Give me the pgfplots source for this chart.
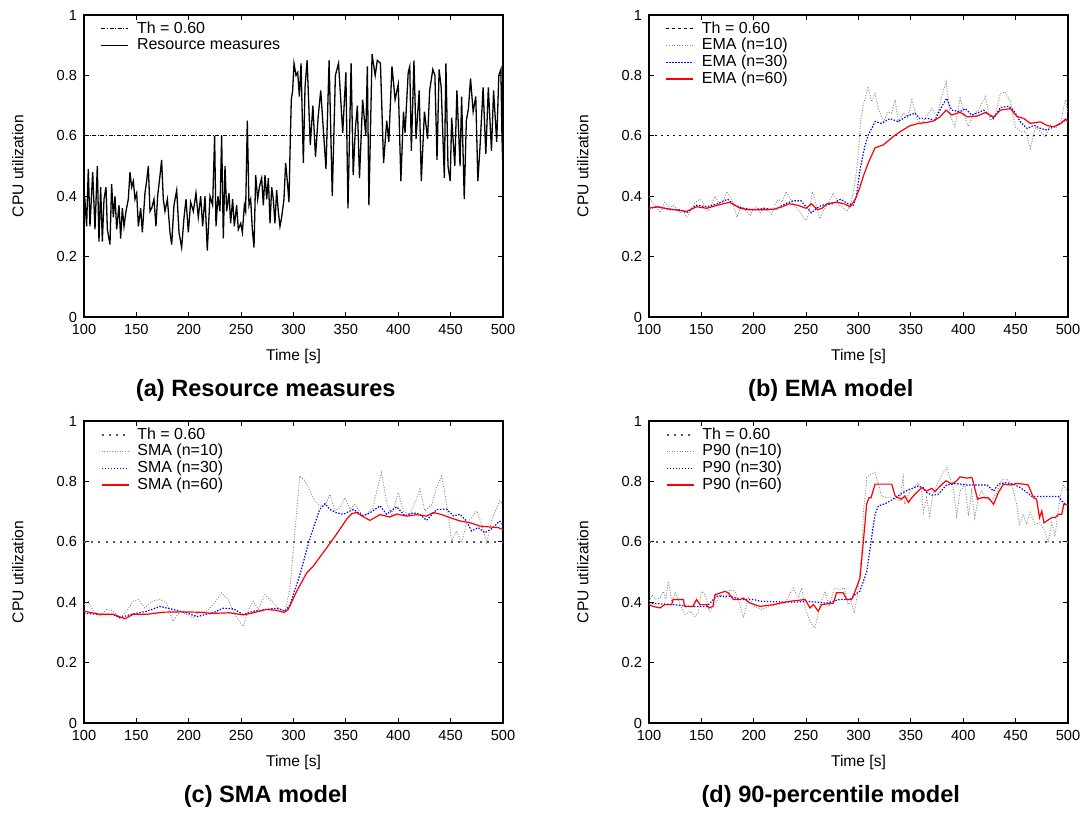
\documentclass[border=0pt]{standalone}
\usepackage{fontspec}
\setmainfont{Liberation Sans}
\usepackage{pgfplots}
\pgfplotsset{compat=1.18}

\pgfplotsset{
  panel/.style={
    scale only axis, width=209.5pt, height=151pt,
    xmin=100, xmax=500, ymin=0, ymax=1,
    xtick={100,150,...,500}, ytick={0,0.2,0.4,0.6,0.8,1},
    yticklabels={0,0.2,0.4,0.6,0.8,1},
    tick align=inside, major tick length=2.5pt,
    axis line style={line width=0.6pt}, tick style={line width=0.5pt,black},
    tick label style={font=\fontsize{7.3}{8}\selectfont},
    /pgf/number format/assume math mode=true,
    xlabel={Time [s]}, ylabel={CPU utilization},
    every axis x label/.style={at={(axis description cs:0.5,-0.132)},anchor=center,
      font=\fontsize{7.8}{8}\selectfont},
    every axis y label/.style={at={(axis description cs:-0.158,0.5)},anchor=center,rotate=90,
      font=\fontsize{7.8}{8}\selectfont},
    legend style={draw=none, fill=none, inner sep=0pt, row sep=-1.9pt,
      at={(axis description cs:0.039,0.99)}, anchor=north west,
      nodes={inner sep=1.5pt},
      font=\fontsize{8}{8.5}\selectfont, cells={anchor=west}},
    legend image code/.code={\draw[##1] (0pt,0pt) -- (13.5pt,0pt); \path (16pt,0pt);},
  },
}
\newcommand{\capt}[2]{\node[font=\fontsize{11.8}{13}\selectfont\bfseries] at ([xshift=90.9pt,yshift=-36.5pt]#1.south west) {#2};}

\begin{document}
\begin{tikzpicture}
\path (0,0) rectangle (543.5pt,-405pt);

% (a) raw measures
\begin{axis}[panel, name=pa, at={(42pt,-158.5pt)}, anchor=south west]
\addplot[draw=black, line width=0.45pt, dash pattern=on 2pt off 0.8pt on 0.5pt off 0.8pt] coordinates {(100,0.6) (500,0.6)};
\addlegendentry{Th = 0.60}
\addplot[draw=black, line width=0.65pt] coordinates {
(100,0.36)(101,0.38)(102.5,0.30)(104.1,0.49)(105.7,0.30)(108.3,0.48)(110.5,0.29)(112.7,0.50)(114.3,0.25)(115.9,0.43)
(117.5,0.25)(119.1,0.39)(121,0.43)(122.3,0.29)(124.8,0.24)(126.4,0.44)(128,0.33)(129.6,0.40)(131.2,0.29)(133.4,0.37)
(135,0.26)(136.6,0.36)(138.2,0.30)(140.1,0.35)(142.3,0.39)(143.9,0.48)(145.5,0.43)(147.1,0.45)(148.7,0.39)(150.3,0.41)
(151.9,0.30)(154.1,0.36)(155.7,0.28)(158.2,0.41)(159.8,0.45)(161.4,0.50)(163,0.35)(164.6,0.36)(166.8,0.39)(168.7,0.30)
(170.3,0.40)(172.6,0.47)(174.1,0.52)(175.7,0.39)(177.3,0.35)(179.6,0.39)(182.1,0.28)(183.7,0.24)(185.9,0.37)(188.5,0.42)
(190.7,0.28)(193.2,0.23)(195.5,0.33)(197.4,0.39)(199.6,0.28)(201.8,0.38)(204.4,0.35)(206.9,0.41)(209.1,0.33)(211.4,0.40)
(213.3,0.30)(215.5,0.40)(217.7,0.22)(220.3,0.40)(222.8,0.37)(224.7,0.60)(226,0.30)(227.9,0.40)(229.8,0.35)(231.4,0.60)
(233,0.26)(234.6,0.50)(236.2,0.35)(238.4,0.41)(240,0.31)(241.9,0.39)(243.5,0.30)(245.7,0.37)(247.3,0.29)(249.6,0.31)
(251.2,0.28)(253.1,0.37)(254.3,0.35)(255.9,0.65)(257.5,0.37)(259.1,0.39)(260.7,0.29)(262.3,0.23)(263.9,0.47)(265.8,0.39)
(267.4,0.43)(269.6,0.46)(271.2,0.37)(272.8,0.47)(274.4,0.39)(276,0.46)(277.6,0.31)(279.2,0.43)(280.7,0.39)(282.3,0.31)
(283.9,0.42)(285.5,0.35)(287.1,0.30)(288.7,0.33)(290.9,0.39)(292.5,0.51)(294.1,0.45)(295.7,0.38)(296.7,0.55)(297.9,0.72)
(299.2,0.75)(300.5,0.84)(302.4,0.80)(304,0.81)(305.6,0.73)(307.2,0.84)(309.4,0.51)(311,0.76)(313,0.85)(316,0.57)
(318.5,0.70)(321,0.53)(323.5,0.66)(326,0.75)(328.5,0.62)(331,0.49)(334,0.85)(337,0.40)(340,0.80)(343,0.84)
(347,0.61)(350,0.81)(352,0.36)(355,0.84)(357,0.47)(359,0.62)(361,0.70)(363,0.46)(366,0.72)(369,0.60)
(370.5,0.83)(372,0.37)(375,0.87)(378,0.80)(380,0.85)(383,0.84)(386,0.51)(389,0.65)(391,0.58)(394,0.83)
(397,0.72)(400,0.77)(402.5,0.45)(405,0.68)(406.5,0.61)(409.5,0.81)(411,0.83)(412.5,0.55)(415,0.85)(417,0.59)
(420,0.75)(422,0.45)(425,0.68)(428,0.59)(430,0.75)(433,0.82)(435,0.80)(437,0.52)(439,0.82)(441,0.76)
(444,0.46)(445.5,0.84)(447.5,0.50)(449.6,0.45)(451,0.66)(454,0.50)(456,0.75)(459,0.50)(460.5,0.73)(463,0.39)
(465,0.65)(467,0.69)(469,0.79)(471.5,0.68)(474,0.73)(476,0.45)(478,0.56)(481,0.76)(483.6,0.54)(486,0.76)
(489,0.55)(491,0.75)(494,0.58)(496,0.80)(498,0.82)(499,0.60)(500,0.48)};
\addlegendentry{Resource measures}
\end{axis}
\capt{pa}{(a) Resource measures}

% (b) EMA
\begin{axis}[panel, name=pb, at={(324.5pt,-158.5pt)}, anchor=south west]
\addplot[draw=black, line width=0.55pt, dash pattern=on 1.2pt off 1.8pt] coordinates {(100,0.6) (500,0.6)};
\addlegendentry{Th = 0.60}
\addplot[draw=black!45, line width=0.45pt, dash pattern=on 0.5pt off 0.8pt] coordinates {
(100,0.40)(103,0.38)(106,0.37)(110.5,0.345)(115,0.38)(120,0.36)(123,0.37)(126,0.36)(129.6,0.345)(133,0.35)
(136,0.33)(140,0.355)(144,0.38)(149,0.39)(153,0.37)(156.6,0.35)(160,0.375)(163,0.40)(168,0.37)(171,0.385)
(174,0.415)(179,0.39)(184,0.33)(187,0.36)(190,0.365)(193,0.35)(196.4,0.335)(200,0.36)(203,0.365)(206,0.345)
(209,0.36)(213,0.355)(217,0.34)(220,0.37)(223.5,0.39)(227,0.38)(231,0.415)(235,0.39)(238,0.37)(244,0.35)
(247,0.33)(250.5,0.32)(253,0.35)(256,0.415)(259,0.38)(263,0.325)(266,0.35)(270,0.37)(273,0.39)(276,0.41)
(279,0.39)(282,0.37)(286,0.36)(289,0.35)(292,0.37)(295,0.41)(298,0.48)(300,0.555)(302,0.65)(304.5,0.70)
(309,0.763)(312.5,0.713)(315.8,0.74)(319,0.69)(323.7,0.647)(328.5,0.68)(331.7,0.675)(335,0.72)(338,0.647)(343,0.675)
(347,0.66)(351,0.719)(355.6,0.657)(360,0.636)(365,0.665)(370,0.69)(374.6,0.665)(379.5,0.73)(383.6,0.779)(387.5,0.665)
(392,0.63)(397,0.724)(402,0.657)(405,0.63)(409.6,0.669)(414.4,0.685)(421,0.73)(425.6,0.65)(430.4,0.669)(435.5,0.74)
(440,0.745)(445,0.713)(449.7,0.63)(454.6,0.614)(459.4,0.614)(464,0.558)(469,0.63)(474,0.614)(478.5,0.597)(483,0.636)
(488,0.625)(493,0.646)(497.6,0.719)(500,0.675)};
\addlegendentry{EMA (n=10)}
\addplot[draw=blue, line width=0.6pt, dash pattern=on 0.7pt off 0.8pt] coordinates {
(100,0.36)(110,0.365)(120,0.355)(130,0.355)(136,0.345)(145,0.37)(155,0.365)(165,0.375)(175,0.39)(182,0.37)
(190,0.36)(200,0.355)(210,0.36)(220,0.355)(230,0.375)(238,0.385)(245,0.385)(250,0.365)(255,0.345)(260,0.36)
(265,0.37)(275,0.375)(283,0.39)(290,0.375)(295,0.37)(298,0.40)(301.4,0.487)(306,0.564)(309,0.60)(315.8,0.647)
(322,0.641)(330,0.657)(338,0.647)(346,0.665)(354,0.675)(358.6,0.657)(366.6,0.657)(373,0.652)(379.5,0.697)(384,0.724)
(389,0.685)(397,0.68)(402,0.69)(408,0.669)(413,0.675)(419.5,0.685)(429,0.657)(435.5,0.694)(443.5,0.698)(448,0.685)
(454.6,0.646)(461,0.624)(467.5,0.635)(474,0.624)(480,0.619)(486.5,0.63)(493,0.641)(497.6,0.652)(500,0.657)};
\addlegendentry{EMA (n=30)}
\addplot[draw=red, line width=0.6pt] coordinates {
(100,0.36)(107,0.365)(115,0.36)(125,0.355)(136,0.35)(145.5,0.365)(155,0.36)(165,0.37)(171,0.375)(177,0.38)
(187,0.36)(195,0.355)(202,0.355)(210,0.355)(219,0.357)(227,0.365)(234,0.375)(242,0.37)(250,0.36)(255,0.375)
(261,0.355)(265,0.36)(270,0.375)(279,0.38)(286,0.375)(292,0.365)(297,0.39)(301.4,0.43)(305,0.47)(309.3,0.51)
(315.8,0.56)(323.7,0.57)(333,0.597)(339.5,0.613)(349,0.633)(357,0.641)(365,0.644)(371.5,0.649)(378,0.663)(383.6,0.685)
(389,0.669)(397,0.678)(403.6,0.663)(413,0.665)(421,0.677)(429,0.662)(435.5,0.685)(445,0.69)(451,0.665)(458,0.657)
(464,0.641)(473.8,0.646)(480,0.634)(486.5,0.63)(493,0.641)(497.6,0.655)(500,0.646)};
\addlegendentry{EMA (n=60)}
\end{axis}
\capt{pb}{(b) EMA model}

% (c) SMA
\begin{axis}[panel, name=pc, at={(42pt,-361.5pt)}, anchor=south west]
\addplot[draw=black!65, line width=0.8pt, dash pattern=on 1pt off 2.6pt] coordinates {(100,0.6) (500,0.6)};
\addlegendentry{Th = 0.60}
\addplot[draw=black!45, line width=0.45pt, dash pattern=on 0.5pt off 0.8pt] coordinates {
(100,0.392)(104,0.403)(109,0.37)(115,0.353)(121.6,0.376)(128,0.37)(134,0.346)(140.7,0.37)(147,0.403)(152,0.409)
(158,0.381)(164.6,0.403)(172.6,0.409)(179,0.397)(185,0.337)(191.6,0.37)(198,0.359)(204,0.348)(210.7,0.37)(217,0.37)
(223.5,0.392)(231.4,0.431)(237.8,0.409)(242.6,0.37)(247,0.342)(252,0.32)(257,0.376)(261.6,0.403)(266.4,0.376)(272.8,0.425)
(279,0.403)(285.5,0.381)(292,0.37)(296.7,0.447)(301.4,0.636)(306,0.818)(311,0.802)(315.8,0.768)(320.5,0.735)(325,0.719)
(330,0.719)(334.8,0.757)(339.6,0.702)(344.4,0.713)(349,0.746)(354,0.708)(358.7,0.724)(365,0.691)(369.8,0.691)(376,0.713)
(381,0.791)(384,0.829)(389,0.73)(393.7,0.686)(400,0.763)(405,0.702)(411,0.691)(417.6,0.746)(420.7,0.774)(425.5,0.702)
(432,0.724)(436.7,0.78)(441.5,0.818)(446,0.73)(451,0.602)(455.7,0.636)(460.5,0.597)(465,0.658)(470,0.68)(474.9,0.702)
(479.6,0.658)(484.4,0.597)(489,0.669)(494,0.713)(497,0.735)(500,0.724)};
\addlegendentry{SMA (n=10)}
\addplot[draw=blue, line width=0.6pt, dash pattern=on 0.7pt off 0.8pt] coordinates {
(100,0.364)(115,0.359)(128,0.359)(134,0.348)(144,0.359)(160,0.37)(172.6,0.386)(185,0.376)(198,0.365)(207.6,0.352)
(223,0.365)(233,0.38)(242.6,0.378)(252,0.359)(261.6,0.37)(274,0.376)(284,0.38)(292,0.37)(296.7,0.392)(306,0.49)
(315.8,0.613)(325,0.707)(330,0.726)(334.8,0.707)(341,0.696)(347.6,0.691)(357,0.707)(366.6,0.686)(373,0.696)(382.6,0.719)
(388.9,0.691)(398.5,0.716)(406.4,0.686)(414.4,0.696)(420.7,0.691)(427,0.671)(436.7,0.707)(446,0.708)(452.6,0.686)(459,0.691)
(465,0.669)(470,0.636)(476.4,0.647)(482.8,0.63)(490.8,0.647)(496.5,0.669)(500,0.658)};
\addlegendentry{SMA (n=30)}
\addplot[draw=red, line width=0.6pt] coordinates {
(100,0.37)(115,0.36)(128,0.36)(139,0.345)(147,0.36)(160,0.36)(176,0.367)(192,0.368)(207.6,0.367)(223,0.363)
(239,0.365)(252,0.358)(261.6,0.365)(274,0.376)(284,0.373)(291,0.366)(295,0.376)(303,0.436)(312.6,0.497)(319,0.52)
(331.7,0.58)(341,0.625)(350.8,0.675)(355.5,0.693)(360.3,0.697)(365,0.686)(373,0.671)(382.6,0.69)(392,0.682)(398.5,0.692)
(408,0.685)(417.6,0.69)(427,0.685)(433.5,0.697)(441.5,0.69)(449.4,0.68)(459,0.669)(468.5,0.663)(478,0.652)(487.6,0.649)
(495.5,0.647)(500,0.64)};
\addlegendentry{SMA (n=60)}
\end{axis}
\capt{pc}{(c) SMA model}

% (d) 90-percentile
\begin{axis}[panel, name=pd, at={(324.5pt,-361.5pt)}, anchor=south west]
\addplot[draw=black!65, line width=0.8pt, dash pattern=on 1pt off 2.6pt] coordinates {(100,0.6) (500,0.6)};
\addlegendentry{Th = 0.60}
\addplot[draw=black!45, line width=0.45pt, dash pattern=on 0.5pt off 0.8pt] coordinates {
(100,0.403)(103,0.425)(106,0.41)(110.5,0.414)(113.7,0.436)(116,0.41)(118.5,0.469)(121.6,0.403)(125,0.431)(129.6,0.392)
(134.4,0.359)(139,0.37)(144,0.353)(147,0.364)(150,0.436)(153.5,0.425)(158,0.37)(163,0.392)(168,0.425)(172.6,0.414)
(177.3,0.442)(182,0.436)(186.8,0.392)(190,0.348)(195,0.414)(201,0.386)(207.6,0.376)(215.5,0.386)(223.5,0.392)(229.5,0.397)
(237.8,0.447)(242.6,0.414)(245.7,0.447)(248.6,0.386)(253.6,0.337)(258.5,0.315)(263,0.386)(268,0.436)(272,0.386)(277,0.447)
(282,0.442)(286.5,0.447)(290,0.392)(292.8,0.403)(296,0.364)(299,0.425)(301.4,0.503)(303.8,0.602)(304.6,0.70)(307,0.77)
(307.8,0.813)(312.5,0.824)(315.8,0.83)(319,0.791)(322,0.752)(326.8,0.746)(333,0.746)(339.5,0.735)(341,0.779)(342.6,0.813)
(344,0.724)(347.6,0.757)(352,0.779)(357,0.796)(360.3,0.768)(361.8,0.697)(365,0.746)(368,0.686)(371,0.757)(376,0.796)
(380,0.824)(384.5,0.846)(387,0.813)(390,0.791)(393.7,0.686)(397,0.768)(401.6,0.791)(405,0.686)(408,0.768)(411,0.68)
(414.4,0.746)(417.6,0.768)(420.7,0.746)(427,0.735)(432,0.763)(436.7,0.807)(441.5,0.807)(446.3,0.791)(451,0.724)(453.5,0.658)
(457.5,0.691)(460.5,0.658)(463.8,0.697)(468.4,0.658)(473,0.663)(478,0.635)(481,0.597)(484.5,0.663)(487.6,0.619)(491,0.713)
(492.4,0.746)(495.6,0.791)(498.7,0.768)(500,0.757)};
\addlegendentry{P90 (n=10)}
\addplot[draw=blue, line width=0.6pt, dash pattern=on 0.7pt off 0.8pt] coordinates {
(100,0.397)(123,0.392)(139,0.386)(155,0.386)(164.6,0.42)(177,0.42)(187,0.409)(200,0.409)(206,0.403)(238,0.40)
(250.5,0.403)(269.6,0.397)(282,0.409)(292,0.409)(296.7,0.425)(301.4,0.437)(307.8,0.50)(312.5,0.614)(315.8,0.691)(319,0.719)
(325.4,0.726)(333,0.741)(342.6,0.763)(349,0.774)(357,0.785)(361.8,0.779)(365,0.763)(370,0.755)(376,0.757)(384,0.788)
(393.7,0.793)(403.5,0.788)(413,0.788)(422.6,0.788)(429,0.768)(433.6,0.791)(440,0.796)(448,0.791)(454.6,0.779)(461,0.763)
(465.6,0.75)(478,0.75)(491,0.75)(494,0.735)(497.6,0.724)(500,0.724)};
\addlegendentry{P90 (n=30)}
\addplot[draw=red, line width=0.6pt] coordinates {
(100,0.392)(104,0.386)(110.5,0.381)(115,0.392)(121.6,0.392)(123,0.409)(132.8,0.409)(134,0.386)(142,0.386)(145.4,0.409)
(148.6,0.392)(155,0.392)(157,0.381)(161,0.386)(163,0.425)(172.5,0.436)(175.7,0.431)(180.5,0.409)(187,0.409)(190,0.414)
(196.4,0.397)(206,0.386)(218.7,0.392)(225,0.397)(234.6,0.403)(249,0.409)(253.7,0.381)(257,0.392)(261.6,0.37)(264.8,0.392)
(276,0.397)(279,0.431)(285.5,0.431)(288.7,0.409)(293.5,0.409)(296.7,0.436)(301.4,0.48)(303,0.54)(304.6,0.60)(307.8,0.725)
(310,0.746)(312,0.746)(315.8,0.791)(331.7,0.791)(335,0.752)(338,0.746)(341,0.741)(344.4,0.752)(347.6,0.73)(350.8,0.746)
(355.5,0.763)(360.3,0.779)(365,0.768)(370,0.777)(373,0.766)(378,0.785)(383.6,0.802)(389,0.791)(393.7,0.802)(397,0.815)
(403.5,0.811)(408.3,0.813)(410,0.791)(413.6,0.741)(417.6,0.746)(424,0.746)(429,0.724)(433.5,0.763)(438.4,0.791)(445,0.788)
(451,0.793)(457.5,0.791)(462,0.788)(467,0.746)(470,0.741)(472.8,0.68)(475,0.702)(477,0.663)(484.5,0.68)(487.6,0.68)
(491,0.691)(494,0.691)(496,0.724)(500,0.724)};
\addlegendentry{P90 (n=60)}
\end{axis}
\capt{pd}{(d) 90-percentile model}
\end{tikzpicture}
\end{document}
